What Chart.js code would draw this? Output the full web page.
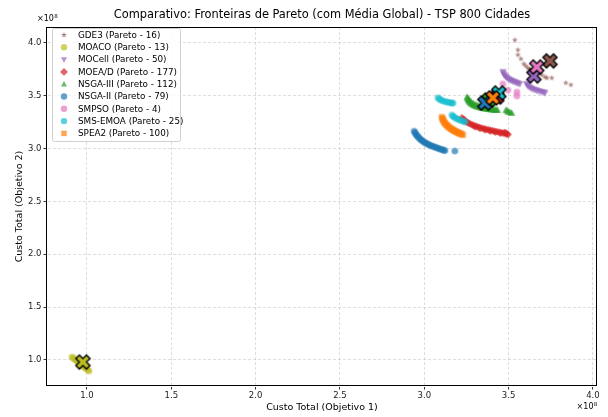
<!DOCTYPE html>
<html><head><meta charset="utf-8">
<script src="https://cdn.jsdelivr.net/npm/chart.js@4.4.1/dist/chart.umd.min.js"></script>
<style>html,body{margin:0;padding:0;background:#fff;}#wrap{width:608px;height:417px;position:relative;}</style>
</head><body><div id="wrap"><canvas id="c" width="608" height="417"></canvas></div>
<script>
const E8 = 1e8;
const FONT = "'DejaVu Sans', sans-serif";

// Algorithms, legend order
const algorithms = ['GDE3', 'MOACO', 'MOCell', 'MOEA/D', 'NSGA-III', 'NSGA-II', 'SMPSO', 'SMS-EMOA', 'SPEA2'];
const paretoCounts = [16, 13, 50, 177, 112, 79, 4, 25, 100];
const colors = ['#8c564b', '#bcbd22', '#9467bd', '#d62728', '#2ca02c', '#1f77b4', '#e377c2', '#17becf', '#ff7f0e'];
const markers = ['star', 'circle', 'triangleDown', 'diamond', 'triangleUp', 'circle', 'circle', 'circle', 'square'];

// Pareto fronts, [objective 1, objective 2] in units of 1e8
const gde3Front = [[3.537,4.027],[3.555,3.933],[3.555,3.886],[3.573,3.848],[3.590,3.800],[3.602,3.781],[3.614,3.762],[3.626,3.753],[3.650,3.734],[3.673,3.715],[3.697,3.696],[3.715,3.677],[3.727,3.668],[3.756,3.668],[3.839,3.621],[3.869,3.602]];
const moacoFront = [[0.911,1.028],[0.919,1.018],[0.928,1.007],[0.936,0.996],[0.945,0.985],[0.953,0.974],[0.962,0.963],[0.970,0.952],[0.979,0.940],[0.987,0.929],[0.996,0.918],[1.004,0.907],[1.012,0.896]];
const mocellFront = [[3.466,3.727],[3.469,3.712],[3.473,3.699],[3.478,3.688],[3.484,3.678],[3.490,3.669],[3.497,3.661],[3.504,3.654],[3.511,3.647],[3.518,3.641],[3.526,3.636],[3.534,3.631],[3.542,3.626],[3.550,3.621],[3.558,3.616],[3.566,3.611],
  [3.606,3.613],[3.611,3.600],[3.617,3.589],[3.624,3.580],[3.632,3.572],[3.641,3.565],[3.650,3.559],[3.659,3.554],[3.668,3.549],[3.678,3.544],[3.688,3.540],[3.698,3.535],[3.708,3.531],[3.716,3.527]];
const moeadFront = [[3.223,3.292],[3.229,3.280],[3.236,3.270],[3.243,3.261],[3.251,3.252],[3.259,3.244],[3.268,3.237],[3.277,3.230],[3.286,3.224],[3.296,3.218],[3.306,3.212],[3.316,3.206],[3.326,3.201],[3.337,3.196],[3.348,3.191],[3.359,3.186],[3.370,3.182],[3.381,3.178],[3.392,3.174],[3.403,3.170],[3.414,3.166],[3.425,3.162],[3.436,3.158],[3.447,3.154],[3.458,3.150],[3.469,3.146],[3.480,3.142],[3.490,3.137],[3.497,3.132],
  [3.300,3.206],[3.330,3.190],[3.360,3.177],[3.390,3.166],[3.420,3.156],[3.450,3.146],[3.475,3.152],[3.485,3.148]];
const nsga3Front = [[3.253,3.488],[3.256,3.478],[3.258,3.470],[3.261,3.461],[3.264,3.452],[3.268,3.444],[3.272,3.436],[3.276,3.430],[3.281,3.424],[3.286,3.419],[3.291,3.414],[3.296,3.410],[3.302,3.406],[3.308,3.402],[3.314,3.399],[3.320,3.396],[3.326,3.393],[3.332,3.390],[3.338,3.388],[3.344,3.386],[3.350,3.384],[3.356,3.382],[3.362,3.380],[3.368,3.378],[3.374,3.377],[3.380,3.375],[3.386,3.374],[3.392,3.372],[3.398,3.371],[3.404,3.370],[3.410,3.369],[3.416,3.368],[3.422,3.367],[3.428,3.366],[3.434,3.365],
  [3.266,3.462],[3.276,3.445],[3.290,3.430],[3.305,3.418],[3.320,3.408],
  [3.484,3.365],[3.490,3.358],[3.496,3.350],[3.504,3.346],[3.512,3.340],[3.518,3.337]];
const nsga2Front = [[2.940,3.165],[2.945,3.150],[2.950,3.137],[2.956,3.124],[2.962,3.112],[2.969,3.100],[2.976,3.089],[2.984,3.079],[2.992,3.069],[3.000,3.060],[3.009,3.052],[3.018,3.044],[3.027,3.037],[3.036,3.030],[3.046,3.024],[3.056,3.018],[3.066,3.012],[3.076,3.006],[3.086,3.000],[3.096,2.995],[3.106,2.990],[3.116,2.985],[3.122,2.981],[3.181,2.977]];
const smpsoFront = [[3.466,3.611],[3.496,3.554],[3.549,3.535],[3.549,3.497]];
const smsemoaFront = [[3.081,3.480],[3.090,3.468],[3.100,3.458],[3.112,3.450],[3.125,3.444],[3.138,3.439],[3.150,3.435],[3.162,3.432],[3.170,3.430],
  [3.164,3.318],[3.172,3.303],[3.182,3.292],[3.194,3.282],[3.206,3.274],[3.218,3.266],[3.230,3.259],[3.241,3.252]];
const spea2Front = [[3.104,3.299],[3.107,3.287],[3.110,3.275],[3.113,3.264],[3.116,3.254],[3.120,3.245],[3.124,3.237],[3.128,3.229],[3.133,3.221],[3.137,3.214],[3.142,3.207],[3.147,3.201],[3.152,3.195],[3.157,3.189],[3.162,3.184],[3.167,3.179],[3.172,3.174],[3.177,3.169],[3.182,3.165],[3.187,3.161],[3.192,3.157],[3.197,3.153],[3.202,3.150],[3.207,3.146],[3.212,3.143],[3.217,3.139],[3.222,3.136],[3.229,3.130]];

const fronts = [gde3Front, moacoFront, mocellFront, moeadFront, nsga3Front, nsga2Front, smpsoFront, smsemoaFront, spea2Front];

// Global mean of each algorithm, same order and units
const globalMeans = [[3.745,3.829],[0.976,0.981],[3.650,3.687],[3.430,3.488],[3.383,3.460],[3.359,3.431],[3.667,3.772],[3.442,3.526],[3.407,3.479]];

const xTicks = [1.0, 1.5, 2.0, 2.5, 3.0, 3.5, 4.0];
const yTicks = [1.0, 1.5, 2.0, 2.5, 3.0, 3.5, 4.0];
const xRange = [0.763, 4.024];
const yRange = [0.754, 4.150];

function hexA(hex, a) {
  const n = parseInt(hex.slice(1), 16);
  return `rgba(${n >> 16},${(n >> 8) & 255},${n & 255},${a})`;
}

// Marker shapes on a 2D context
function markerPath(ctx, kind, x, y, r) {
  ctx.beginPath();
  if (kind === 'circle') {
    ctx.arc(x, y, r, 0, Math.PI * 2);
  } else if (kind === 'square') {
    ctx.rect(x - r * 0.85, y - r * 0.85, r * 1.7, r * 1.7);
  } else if (kind === 'diamond') {
    ctx.moveTo(x, y - r * 1.1); ctx.lineTo(x + r * 1.1, y); ctx.lineTo(x, y + r * 1.1); ctx.lineTo(x - r * 1.1, y); ctx.closePath();
  } else if (kind === 'triangleUp') {
    ctx.moveTo(x, y - r); ctx.lineTo(x + r * 0.95, y + r * 0.75); ctx.lineTo(x - r * 0.95, y + r * 0.75); ctx.closePath();
  } else if (kind === 'triangleDown') {
    ctx.moveTo(x, y + r); ctx.lineTo(x + r * 0.95, y - r * 0.75); ctx.lineTo(x - r * 0.95, y - r * 0.75); ctx.closePath();
  } else if (kind === 'star') {
    for (let i = 0; i < 10; i++) {
      const rr = i % 2 === 0 ? r : r * 0.382;
      const a = -Math.PI / 2 + i * Math.PI / 5;
      const px = x + rr * Math.cos(a), py = y + rr * Math.sin(a);
      if (i === 0) ctx.moveTo(px, py); else ctx.lineTo(px, py);
    }
    ctx.closePath();
  }
}

function markerImage(kind, color, r) {
  const s = Math.ceil(r * 2 + 2);
  const cv = document.createElement('canvas');
  cv.width = s; cv.height = s;
  const ctx = cv.getContext('2d');
  ctx.fillStyle = color;
  markerPath(ctx, kind, s / 2, s / 2, r);
  ctx.fill();
  return cv;
}

// Filled "X" with black outline for the global means
function meanImage(color, size) {
  const pad = 2;
  const s = Math.ceil(size + pad * 2);
  const cv = document.createElement('canvas');
  cv.width = s; cv.height = s;
  const ctx = cv.getContext('2d');
  const k = size / 6;
  const base = [[-1,-3],[-1,-1],[-3,-1],[-3,1],[-1,1],[-1,3],[1,3],[1,1],[3,1],[3,-1],[1,-1],[1,-3]];
  const c = s / 2, cs = Math.SQRT1_2;
  ctx.beginPath();
  base.forEach(([px, py], i) => {
    const X = c + (px - py) * cs * k, Y = c + (px + py) * cs * k;
    if (i === 0) ctx.moveTo(X, Y); else ctx.lineTo(X, Y);
  });
  ctx.closePath();
  ctx.fillStyle = color;
  ctx.fill();
  ctx.lineWidth = 1.4;
  ctx.strokeStyle = '#000';
  ctx.stroke();
  return cv;
}

const pointSizes = { star: 3.2, circle: 3.3, triangleDown: 3.7, diamond: 3.4, triangleUp: 3.7, square: 3.5 };

const datasets = [];
algorithms.forEach((name, i) => {
  datasets.push({
    label: `${name} (Pareto - ${paretoCounts[i]})`,
    data: fronts[i].map(p => ({ x: p[0] * E8, y: p[1] * E8 })),
    pointStyle: markerImage(markers[i], hexA(colors[i], 0.7), pointSizes[markers[i]]),
    pointRadius: 4, pointHoverRadius: 4, borderWidth: 0,
    showLine: false,
    order: 100 - i
  });
});
algorithms.forEach((name, i) => {
  datasets.push({
    label: `${name} média`,
    data: [{ x: globalMeans[i][0] * E8, y: globalMeans[i][1] * E8 }],
    pointStyle: meanImage(colors[i], 15),
    pointRadius: 9, pointHoverRadius: 9, borderWidth: 0,
    showLine: false,
    order: 50 - i
  });
});

function drawSupText(ctx, x, y, align) {
  ctx.save();
  ctx.fillStyle = '#000';
  ctx.textBaseline = 'alphabetic';
  ctx.font = `8px ${FONT}`;
  const main = '×10';
  const wMain = ctx.measureText(main).width;
  ctx.font = `5.5px ${FONT}`;
  const wSup = ctx.measureText('8').width;
  const x0 = align === 'right' ? x - wMain - wSup : x;
  ctx.font = `8px ${FONT}`;
  ctx.textAlign = 'left';
  ctx.fillText(main, x0, y);
  ctx.font = `5.5px ${FONT}`;
  ctx.fillText('8', x0 + wMain + 0.3, y - 3.5);
  ctx.restore();
}

const decor = {
  id: 'decor',
  afterDraw(chart) {
    const ctx = chart.ctx;
    const a = chart.chartArea;
    ctx.save();
    // frame around the plot area
    ctx.strokeStyle = '#000';
    ctx.lineWidth = 1;
    const L = Math.round(a.left) - 0.5, T = Math.round(a.top) + 0.5, R = Math.round(a.right) - 0.5, B = Math.round(a.bottom) - 0.5;
    ctx.strokeRect(L, T, R - L, B - T);
    // title
    ctx.fillStyle = '#000';
    ctx.font = `11.4px ${FONT}`;
    ctx.textAlign = 'center';
    ctx.textBaseline = 'middle';
    ctx.fillText('Comparativo: Fronteiras de Pareto (com Média Global) - TSP 800 Cidades', (a.left + a.right) / 2, 15);
    // axis titles
    ctx.font = `9.5px ${FONT}`;
    ctx.fillText('Custo Total (Objetivo 1)', (a.left + a.right) / 2, 408);
    ctx.save();
    ctx.translate(20, (a.top + a.bottom) / 2);
    ctx.rotate(-Math.PI / 2);
    ctx.fillText('Custo Total (Objetivo 2)', 0, 0);
    ctx.restore();
    // scale multipliers
    drawSupText(ctx, a.left - 10, 21, 'left');
    drawSupText(ctx, a.right, 409, 'right');
    // legend
    const lx = 52, ly = 28, lw = 128, lh = 113;
    ctx.fillStyle = 'rgba(255,255,255,0.85)';
    ctx.strokeStyle = '#d0d0d0';
    ctx.lineWidth = 1;
    ctx.beginPath();
    ctx.roundRect(lx + 0.5, ly + 0.5, lw, lh, 2);
    ctx.fill();
    ctx.stroke();
    ctx.font = `8.8px ${FONT}`;
    ctx.textAlign = 'left';
    ctx.textBaseline = 'middle';
    algorithms.forEach((name, i) => {
      const y = 35 + i * 12.3;
      ctx.fillStyle = hexA(colors[i], 0.7);
      markerPath(ctx, markers[i], 64, y, markers[i] === 'diamond' ? 3.6 : 3.2);
      ctx.fill();
      ctx.fillStyle = '#000';
      ctx.fillText(`${name} (Pareto - ${paretoCounts[i]})`, 78, y + 0.5);
    });
    ctx.restore();
  }
};

const tickFont = { family: FONT, size: 8.5 };

new Chart(document.getElementById('c'), {
  type: 'scatter',
  data: { datasets },
  options: {
    responsive: false,
    animation: false,
    events: [],
    layout: { padding: { top: 27, right: 11, left: 0, bottom: 0 } },
    plugins: { legend: { display: false }, tooltip: { enabled: false }, title: { display: false } },
    scales: {
      x: {
        type: 'linear',
        min: xRange[0] * E8, max: xRange[1] * E8,
        afterFit(s) { s.height = 31; },
        afterBuildTicks(s) { s.ticks = xTicks.map(v => ({ value: v * E8 })); },
        ticks: { callback: v => (v / E8).toFixed(1), font: tickFont, color: '#222', padding: 1, maxRotation: 0, autoSkip: false },
        grid: { color: 'rgba(180,180,180,0.55)', tickColor: '#000', tickLength: 3.5, tickBorderDash: [], lineWidth: 0.8 },
        border: { color: 'rgba(0,0,0,0)', width: 1, dash: [3, 2] }
      },
      y: {
        type: 'linear',
        min: yRange[0] * E8, max: yRange[1] * E8,
        afterFit(s) { s.width = 47; },
        afterBuildTicks(s) { s.ticks = yTicks.map(v => ({ value: v * E8 })); },
        ticks: { callback: v => (v / E8).toFixed(1), font: tickFont, color: '#222', padding: 2, autoSkip: false },
        grid: { color: 'rgba(180,180,180,0.55)', tickColor: '#000', tickLength: 3.5, tickBorderDash: [], lineWidth: 0.8 },
        border: { color: 'rgba(0,0,0,0)', width: 1, dash: [3, 2] }
      }
    }
  },
  plugins: [decor]
});
</script>
</body></html>
